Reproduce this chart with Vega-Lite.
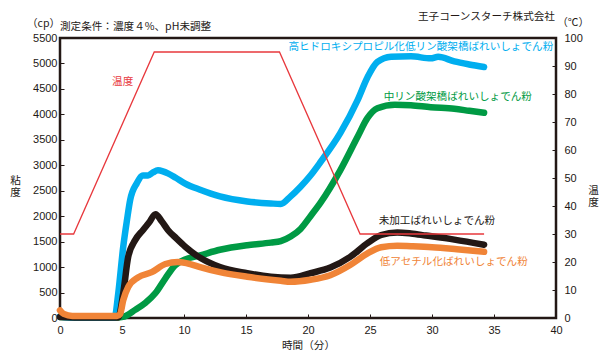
{
  "$schema": "https://vega.github.io/schema/vega-lite/v6.json",
  "width": 496,
  "height": 280,
  "autosize": {"type": "none"},
  "padding": {"left": 60, "top": 38, "right": 57, "bottom": 41},
  "background": "white",
  "config": {
    "view": {"stroke": "#231815", "strokeWidth": 2.5},
    "font": "Liberation Sans, Noto Sans CJK JP",
    "axis": {
      "grid": false,
      "domain": false,
      "ticks": true,
      "tickColor": "#231815",
      "tickSize": -4,
      "tickWidth": 1,
      "labelFontSize": 11,
      "labelColor": "#231815",
      "labelFont": "Liberation Sans",
      "labelOverlap": false,
      "labelFlush": false,
      "format": "d",
      "titleFont": "Noto Sans CJK JP",
      "titleFontSize": 10.6,
      "titleFontWeight": "normal",
      "titleColor": "#231815"
    }
  },
  "datasets": {
    "curves": [
      {"t": 0, "cp": 20, "name": "中リン酸架橋ばれいしょでん粉"},
      {"t": 2, "cp": 10, "name": "中リン酸架橋ばれいしょでん粉"},
      {"t": 4.5, "cp": 10, "name": "中リン酸架橋ばれいしょでん粉"},
      {"t": 5.2, "cp": 30, "name": "中リン酸架橋ばれいしょでん粉"},
      {"t": 6.06, "cp": 160, "name": "中リン酸架橋ばれいしょでん粉"},
      {"t": 6.9, "cp": 300, "name": "中リン酸架橋ばれいしょでん粉"},
      {"t": 7.7, "cp": 490, "name": "中リン酸架橋ばれいしょでん粉"},
      {"t": 8.5, "cp": 780, "name": "中リン酸架橋ばれいしょでん粉"},
      {"t": 9.3, "cp": 1040, "name": "中リン酸架橋ばれいしょでん粉"},
      {"t": 10.1, "cp": 1150, "name": "中リン酸架橋ばれいしょでん粉"},
      {"t": 11.3, "cp": 1230, "name": "中リン酸架橋ばれいしょでん粉"},
      {"t": 12.9, "cp": 1340, "name": "中リン酸架橋ばれいしょでん粉"},
      {"t": 15.1, "cp": 1430, "name": "中リン酸架橋ばれいしょでん粉"},
      {"t": 17.0, "cp": 1480, "name": "中リン酸架橋ばれいしょでん粉"},
      {"t": 17.8, "cp": 1510, "name": "中リン酸架橋ばれいしょでん粉"},
      {"t": 18.6, "cp": 1600, "name": "中リン酸架橋ばれいしょでん粉"},
      {"t": 19.4, "cp": 1750, "name": "中リン酸架橋ばれいしょでん粉"},
      {"t": 20.2, "cp": 2000, "name": "中リン酸架橋ばれいしょでん粉"},
      {"t": 21.0, "cp": 2260, "name": "中リン酸架橋ばれいしょでん粉"},
      {"t": 22.6, "cp": 2900, "name": "中リン酸架橋ばれいしょでん粉"},
      {"t": 24.0, "cp": 3560, "name": "中リン酸架橋ばれいしょでん粉"},
      {"t": 24.8, "cp": 3930, "name": "中リン酸架橋ばれいしょでん粉"},
      {"t": 25.6, "cp": 4120, "name": "中リン酸架橋ばれいしょでん粉"},
      {"t": 27.0, "cp": 4190, "name": "中リン酸架橋ばれいしょでん粉"},
      {"t": 28.3, "cp": 4180, "name": "中リン酸架橋ばれいしょでん粉"},
      {"t": 29.9, "cp": 4140, "name": "中リン酸架橋ばれいしょでん粉"},
      {"t": 31.8, "cp": 4110, "name": "中リン酸架橋ばれいしょでん粉"},
      {"t": 33.0, "cp": 4070, "name": "中リン酸架橋ばれいしょでん粉"},
      {"t": 34.2, "cp": 4030, "name": "中リン酸架橋ばれいしょでん粉"},

      {"t": 0, "cp": 30, "name": "高ヒドロキシプロピル化低リン酸架橋ばれいしょでん粉"},
      {"t": 1, "cp": 10, "name": "高ヒドロキシプロピル化低リン酸架橋ばれいしょでん粉"},
      {"t": 4.4, "cp": 10, "name": "高ヒドロキシプロピル化低リン酸架橋ばれいしょでん粉"},
      {"t": 4.7, "cp": 490, "name": "高ヒドロキシプロピル化低リン酸架橋ばれいしょでん粉"},
      {"t": 5.1, "cp": 1400, "name": "高ヒドロキシプロピル化低リン酸架橋ばれいしょでん粉"},
      {"t": 5.4, "cp": 1920, "name": "高ヒドロキシプロピル化低リン酸架橋ばれいしょでん粉"},
      {"t": 5.66, "cp": 2320, "name": "高ヒドロキシプロピル化低リン酸架橋ばれいしょでん粉"},
      {"t": 6.2, "cp": 2650, "name": "高ヒドロキシプロピル化低リン酸架橋ばれいしょでん粉"},
      {"t": 6.7, "cp": 2800, "name": "高ヒドロキシプロピル化低リン酸架橋ばれいしょでん粉"},
      {"t": 7.1, "cp": 2800, "name": "高ヒドロキシプロピル化低リン酸架橋ばれいしょでん粉"},
      {"t": 7.5, "cp": 2860, "name": "高ヒドロキシプロピル化低リン酸架橋ばれいしょでん粉"},
      {"t": 7.9, "cp": 2900, "name": "高ヒドロキシプロピル化低リン酸架橋ばれいしょでん粉"},
      {"t": 8.3, "cp": 2880, "name": "高ヒドロキシプロピル化低リン酸架橋ばれいしょでん粉"},
      {"t": 8.7, "cp": 2840, "name": "高ヒドロキシプロピル化低リン酸架橋ばれいしょでん粉"},
      {"t": 9.3, "cp": 2760, "name": "高ヒドロキシプロピル化低リン酸架橋ばれいしょでん粉"},
      {"t": 10.1, "cp": 2640, "name": "高ヒドロキシプロピル化低リン酸架橋ばれいしょでん粉"},
      {"t": 11.3, "cp": 2520, "name": "高ヒドロキシプロピル化低リン酸架橋ばれいしょでん粉"},
      {"t": 12.9, "cp": 2390, "name": "高ヒドロキシプロピル化低リン酸架橋ばれいしょでん粉"},
      {"t": 15.1, "cp": 2290, "name": "高ヒドロキシプロピル化低リン酸架橋ばれいしょでん粉"},
      {"t": 17.0, "cp": 2250, "name": "高ヒドロキシプロピル化低リン酸架橋ばれいしょでん粉"},
      {"t": 17.8, "cp": 2240, "name": "高ヒドロキシプロピル化低リン酸架橋ばれいしょでん粉"},
      {"t": 18.6, "cp": 2390, "name": "高ヒドロキシプロピル化低リン酸架橋ばれいしょでん粉"},
      {"t": 19.4, "cp": 2580, "name": "高ヒドロキシプロピル化低リン酸架橋ばれいしょでん粉"},
      {"t": 20.2, "cp": 2800, "name": "高ヒドロキシプロピル化低リン酸架橋ばれいしょでん粉"},
      {"t": 21.0, "cp": 3060, "name": "高ヒドロキシプロピル化低リン酸架橋ばれいしょでん粉"},
      {"t": 22.6, "cp": 3630, "name": "高ヒドロキシプロピル化低リン酸架橋ばれいしょでん粉"},
      {"t": 24.0, "cp": 4280, "name": "高ヒドロキシプロピル化低リン酸架橋ばれいしょでん粉"},
      {"t": 24.8, "cp": 4730, "name": "高ヒドロキシプロピル化低リン酸架橋ばれいしょでん粉"},
      {"t": 25.6, "cp": 5030, "name": "高ヒドロキシプロピル化低リン酸架橋ばれいしょでん粉"},
      {"t": 26.7, "cp": 5130, "name": "高ヒドロキシプロピル化低リン酸架橋ばれいしょでん粉"},
      {"t": 28.3, "cp": 5140, "name": "高ヒドロキシプロピル化低リン酸架橋ばれいしょでん粉"},
      {"t": 29.9, "cp": 5100, "name": "高ヒドロキシプロピル化低リン酸架橋ばれいしょでん粉"},
      {"t": 30.5, "cp": 5130, "name": "高ヒドロキシプロピル化低リン酸架橋ばれいしょでん粉"},
      {"t": 31.8, "cp": 5040, "name": "高ヒドロキシプロピル化低リン酸架橋ばれいしょでん粉"},
      {"t": 33.0, "cp": 4980, "name": "高ヒドロキシプロピル化低リン酸架橋ばれいしょでん粉"},
      {"t": 34.2, "cp": 4930, "name": "高ヒドロキシプロピル化低リン酸架橋ばれいしょでん粉"},

      {"t": 0, "cp": 20, "name": "未加工ばれいしょでん粉"},
      {"t": 2, "cp": 10, "name": "未加工ばれいしょでん粉"},
      {"t": 4.7, "cp": 10, "name": "未加工ばれいしょでん粉"},
      {"t": 5.1, "cp": 490, "name": "未加工ばれいしょでん粉"},
      {"t": 5.5, "cp": 1200, "name": "未加工ばれいしょでん粉"},
      {"t": 6.06, "cp": 1530, "name": "未加工ばれいしょでん粉"},
      {"t": 6.7, "cp": 1730, "name": "未加工ばれいしょでん粉"},
      {"t": 7.2, "cp": 1880, "name": "未加工ばれいしょでん粉"},
      {"t": 7.7, "cp": 2040, "name": "未加工ばれいしょでん粉"},
      {"t": 8.2, "cp": 1900, "name": "未加工ばれいしょでん粉"},
      {"t": 8.7, "cp": 1730, "name": "未加工ばれいしょでん粉"},
      {"t": 9.4, "cp": 1560, "name": "未加工ばれいしょでん粉"},
      {"t": 10.1, "cp": 1400, "name": "未加工ばれいしょでん粉"},
      {"t": 11.0, "cp": 1230, "name": "未加工ばれいしょでん粉"},
      {"t": 12.9, "cp": 1000, "name": "未加工ばれいしょでん粉"},
      {"t": 15.1, "cp": 880, "name": "未加工ばれいしょでん粉"},
      {"t": 17.0, "cp": 810, "name": "未加工ばれいしょでん粉"},
      {"t": 18.6, "cp": 790, "name": "未加工ばれいしょでん粉"},
      {"t": 20.2, "cp": 880, "name": "未加工ばれいしょでん粉"},
      {"t": 21.8, "cp": 990, "name": "未加工ばれいしょでん粉"},
      {"t": 23.4, "cp": 1200, "name": "未加工ばれいしょでん粉"},
      {"t": 24.8, "cp": 1470, "name": "未加工ばれいしょでん粉"},
      {"t": 25.9, "cp": 1630, "name": "未加工ばれいしょでん粉"},
      {"t": 27.2, "cp": 1680, "name": "未加工ばれいしょでん粉"},
      {"t": 28.3, "cp": 1660, "name": "未加工ばれいしょでん粉"},
      {"t": 29.5, "cp": 1620, "name": "未加工ばれいしょでん粉"},
      {"t": 31.8, "cp": 1540, "name": "未加工ばれいしょでん粉"},
      {"t": 34.2, "cp": 1440, "name": "未加工ばれいしょでん粉"},

      {"t": 0, "cp": 150, "name": "低アセチル化ばれいしょでん粉"},
      {"t": 0.3, "cp": 80, "name": "低アセチル化ばれいしょでん粉"},
      {"t": 1, "cp": 40, "name": "低アセチル化ばれいしょでん粉"},
      {"t": 4.6, "cp": 40, "name": "低アセチル化ばれいしょでん粉"},
      {"t": 4.85, "cp": 80, "name": "低アセチル化ばれいしょでん粉"},
      {"t": 5.1, "cp": 350, "name": "低アセチル化ばれいしょでん粉"},
      {"t": 5.5, "cp": 610, "name": "低アセチル化ばれいしょでん粉"},
      {"t": 6.3, "cp": 800, "name": "低アセチル化ばれいしょでん粉"},
      {"t": 7.4, "cp": 900, "name": "低アセチル化ばれいしょでん粉"},
      {"t": 8.5, "cp": 1060, "name": "低アセチル化ばれいしょでん粉"},
      {"t": 9.5, "cp": 1100, "name": "低アセチル化ばれいしょでん粉"},
      {"t": 10.5, "cp": 1060, "name": "低アセチル化ばれいしょでん粉"},
      {"t": 11.3, "cp": 1000, "name": "低アセチル化ばれいしょでん粉"},
      {"t": 12.9, "cp": 900, "name": "低アセチル化ばれいしょでん粉"},
      {"t": 15.1, "cp": 810, "name": "低アセチル化ばれいしょでん粉"},
      {"t": 17.8, "cp": 730, "name": "低アセチル化ばれいしょでん粉"},
      {"t": 18.6, "cp": 710, "name": "低アセチル化ばれいしょでん粉"},
      {"t": 20.2, "cp": 750, "name": "低アセチル化ばれいしょでん粉"},
      {"t": 21.8, "cp": 840, "name": "低アセチル化ばれいしょでん粉"},
      {"t": 23.4, "cp": 1040, "name": "低アセチル化ばれいしょでん粉"},
      {"t": 24.8, "cp": 1270, "name": "低アセチル化ばれいしょでん粉"},
      {"t": 25.9, "cp": 1390, "name": "低アセチル化ばれいしょでん粉"},
      {"t": 27.2, "cp": 1420, "name": "低アセチル化ばれいしょでん粉"},
      {"t": 28.3, "cp": 1410, "name": "低アセチル化ばれいしょでん粉"},
      {"t": 30.0, "cp": 1390, "name": "低アセチル化ばれいしょでん粉"},
      {"t": 32.0, "cp": 1350, "name": "低アセチル化ばれいしょでん粉"},
      {"t": 34.2, "cp": 1300, "name": "低アセチル化ばれいしょでん粉"}
    ],
    "temperature": [
      {"t": 0, "temp": 30},
      {"t": 1.1, "temp": 30},
      {"t": 7.6, "temp": 95},
      {"t": 17.7, "temp": 95},
      {"t": 24.2, "temp": 30},
      {"t": 34.2, "temp": 30}
    ],
    "labels": [
      {"t": 18.42, "cp": 5323, "name": "高ヒドロキシプロピル化低リン酸架橋ばれいしょでん粉"},
      {"t": 26.1, "cp": 4341, "name": "中リン酸架橋ばれいしょでん粉"},
      {"t": 4.2, "cp": 4636, "name": "温度"},
      {"t": 25.7, "cp": 1905, "name": "未加工ばれいしょでん粉"},
      {"t": 25.78, "cp": 1100, "name": "低アセチル化ばれいしょでん粉"}
    ],
    "notes": [
      {"t": -2.67, "cp": 5775, "text": "（cp）"},
      {"t": 0, "cp": 5716, "text": "測定条件：濃度４%、pH未調整"},
      {"t": 28.87, "cp": 5913, "text": "王子コーンスターチ株式会社"},
      {"t": 40.1, "cp": 5795, "text": "（℃）"}
    ]
  },
  "encoding": {
    "x": {
      "field": "t", "type": "quantitative",
      "scale": {"domain": [0, 40], "nice": false},
      "axis": {"values": [0, 5, 10, 15, 20, 25, 30, 35, 40], "title": "時間（分）", "labelPadding": 10, "titlePadding": 5, "labelOverlap": false, "labelFlush": false, "format": "d"}
    }
  },
  "layer": [
    {
      "encoding": {
        "y": {
          "field": "cp", "type": "quantitative",
          "scale": {"domain": [0, 5500], "nice": false},
          "axis": {
            "values": [0, 500, 1000, 1500, 2000, 2500, 3000, 3500, 4000, 4500, 5000, 5500],
            "labelOverlap": false, "labelFlush": false, "format": "d",
            "title": ["粘", "度"], "titleAngle": 0, "titleX": -45, "titleY": 142,
            "titleAlign": "center", "titleBaseline": "middle", "titleLineHeight": 12,
            "labelPadding": 7
          }
        }
      },
      "layer": [
        {
          "data": {"name": "curves"},
          "mark": {"type": "line", "strokeWidth": 6.5, "strokeJoin": "round", "strokeCap": "round", "interpolate": "monotone"},
          "encoding": {
            "color": {
              "field": "name", "type": "nominal", "legend": null,
              "scale": {
                "domain": ["中リン酸架橋ばれいしょでん粉", "高ヒドロキシプロピル化低リン酸架橋ばれいしょでん粉", "未加工ばれいしょでん粉", "低アセチル化ばれいしょでん粉", "温度"],
                "range": ["#009a44", "#00aeef", "#231815", "#f08437", "#e8383d"]
              }
            }
          }
        },
        {
          "data": {"name": "labels"},
          "mark": {"type": "text", "align": "left", "baseline": "middle", "font": "Noto Sans CJK JP", "fontSize": 10.6},
          "encoding": {
            "text": {"field": "name"},
            "color": {"field": "name", "type": "nominal", "legend": null}
          }
        },
        {
          "data": {"name": "notes"},
          "mark": {"type": "text", "align": "left", "baseline": "middle", "font": "Noto Sans CJK JP", "fontSize": 10.6, "color": "#231815"},
          "encoding": {
            "text": {"field": "text"}
          }
        }
      ]
    },
    {
      "data": {"name": "temperature"},
      "mark": {"type": "line", "color": "#e8383d", "strokeWidth": 1.3},
      "encoding": {
        "y": {
          "field": "temp", "type": "quantitative",
          "scale": {"domain": [0, 100], "nice": false},
          "axis": {
            "orient": "right",
            "values": [0, 10, 20, 30, 40, 50, 60, 70, 80, 90, 100],
            "labelOverlap": false, "labelFlush": false, "format": "d",
            "title": ["温", "度"], "titleAngle": 0, "titleX": 37, "titleY": 152,
            "titleAlign": "center", "titleBaseline": "middle", "titleLineHeight": 12,
            "labelPadding": 12
          }
        }
      }
    }
  ],
  "resolve": {"scale": {"y": "independent"}}
}
